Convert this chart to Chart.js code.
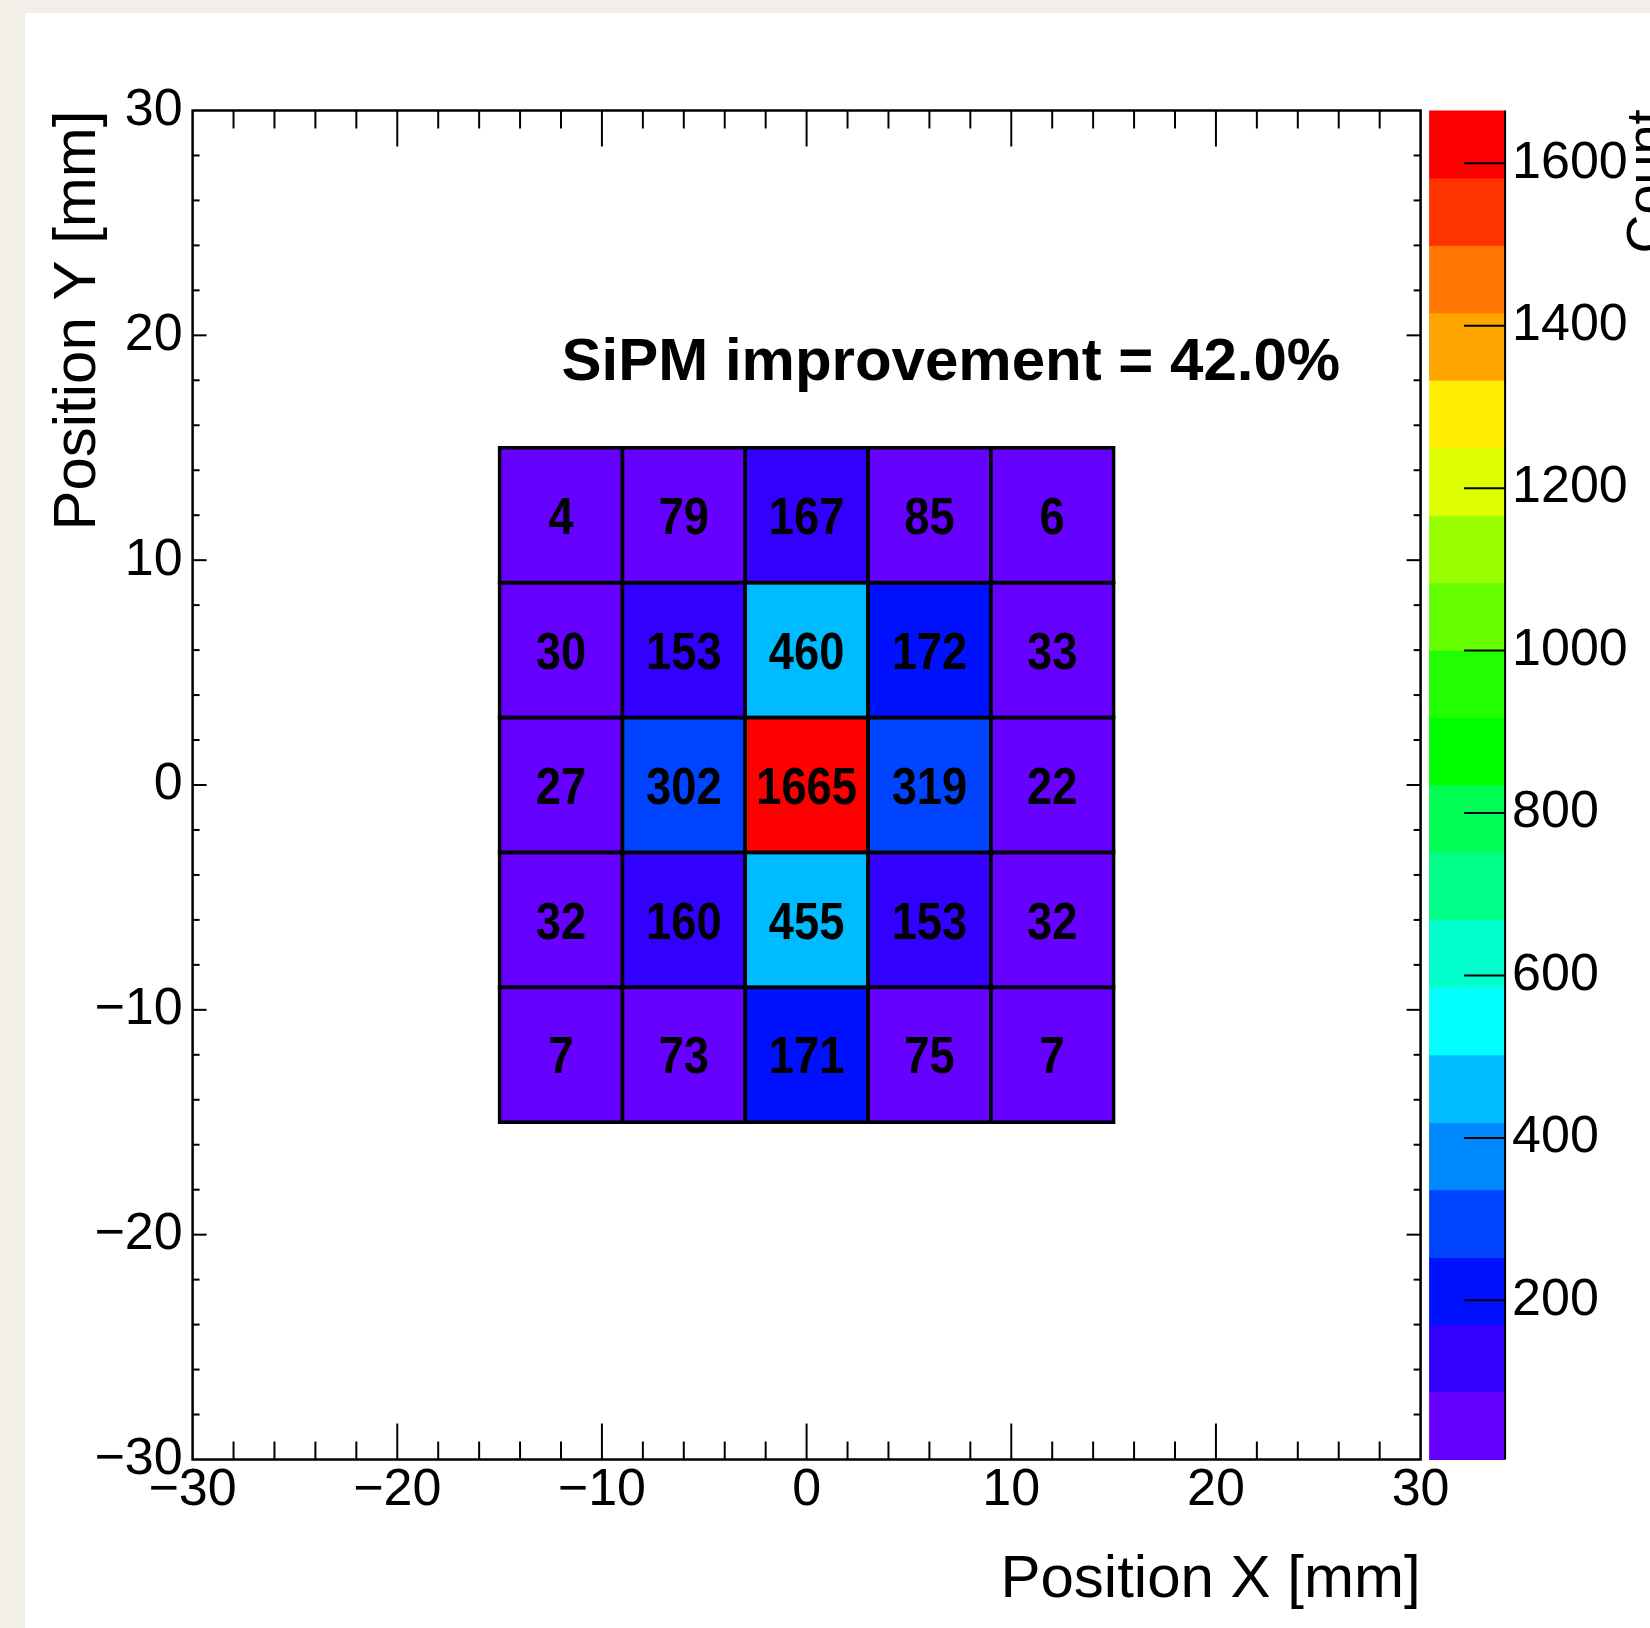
<!DOCTYPE html>
<html>
<head>
<meta charset="utf-8">
<title>SiPM hit map</title>
<script src="https://cdn.jsdelivr.net/npm/chart.js@4.4.1/dist/chart.umd.min.js"></script>
<style>
  html, body { margin: 0; padding: 0; background: #f2efe9; }
  canvas { display: block; }
</style>
</head>
<body>
<canvas id="hitmap" width="1650" height="1628"></canvas>
<script>
// bin edges of the 5x5 SiPM array [mm]
const xEdges = [-15, -9, -3, 3, 9, 15];
const yEdges = [15, 9, 3, -3, -9, -15];
// counts per bin, rows from top (y = +12) to bottom (y = -12)
const counts = [
  [4, 79, 167, 85, 6],
  [30, 153, 460, 172, 33],
  [27, 302, 1665, 319, 22],
  [32, 160, 455, 153, 32],
  [7, 73, 171, 75, 7]
];
const xTicks = [-30, -20, -10, 0, 10, 20, 30];
const yTicks = [-30, -20, -10, 0, 10, 20, 30];
const zTicks = [200, 400, 600, 800, 1000, 1200, 1400, 1600];
const improvement = 42.0;

// 20 contour levels, low to high
const palette = [
  '#6600ff', '#3300ff', '#0011ff', '#0044ff', '#0088ff',
  '#00bbff', '#00ffff', '#00ffcc', '#00ff88', '#00ff55',
  '#00ff00', '#22ff00', '#66ff00', '#99ff00', '#ddff00',
  '#ffee00', '#ffa500', '#ff7700', '#ff3300', '#ff0000'
];

const FONT = "'Liberation Sans', Helvetica, Arial, sans-serif";

const zMin = Math.min(...counts.flat());
const zMax = Math.max(...counts.flat());

const cells = [];
counts.forEach((row, j) => row.forEach((v, i) => {
  cells.push({
    x: (xEdges[i] + xEdges[i + 1]) / 2,
    y: (yEdges[j] + yEdges[j + 1]) / 2,
    x0: xEdges[i], x1: xEdges[i + 1],
    y0: yEdges[j], y1: yEdges[j + 1],
    v: v
  });
}));

function levelColor(v) {
  let k = Math.floor((v - zMin) / (zMax - zMin) * palette.length);
  k = Math.max(0, Math.min(palette.length - 1, k));
  return palette[k];
}

function minus(v) {
  return v < 0 ? '\u2212' + Math.abs(v) : String(v);
}

function seg(ctx, x0, y0, x1, y1) {
  ctx.beginPath();
  ctx.moveTo(x0, y0);
  ctx.lineTo(x1, y1);
  ctx.stroke();
}

const pagePlugin = {
  id: 'page',
  beforeDraw(chart) {
    const ctx = chart.ctx;
    ctx.save();
    ctx.fillStyle = '#ffffff';
    ctx.fillRect(25, 13, chart.width - 25, chart.height - 13);
    ctx.restore();
  }
};

const heatmapPlugin = {
  id: 'heatmap',
  afterDatasetsDraw(chart) {
    const ctx = chart.ctx;
    const xs = chart.scales.x, ys = chart.scales.y;
    const pts = chart.data.datasets[0].data;
    ctx.save();
    pts.forEach(c => {
      const px0 = xs.getPixelForValue(c.x0), px1 = xs.getPixelForValue(c.x1);
      const py0 = ys.getPixelForValue(c.y0), py1 = ys.getPixelForValue(c.y1);
      ctx.fillStyle = levelColor(c.v);
      ctx.fillRect(px0, py0, px1 - px0, py1 - py0);
    });
    ctx.strokeStyle = '#000';
    ctx.lineWidth = 3.5;
    pts.forEach(c => {
      const px0 = xs.getPixelForValue(c.x0), px1 = xs.getPixelForValue(c.x1);
      const py0 = ys.getPixelForValue(c.y0), py1 = ys.getPixelForValue(c.y1);
      ctx.strokeRect(px0, py0, px1 - px0, py1 - py0);
    });
    // bin contents, bold and a bit condensed
    const size = 52;
    ctx.fillStyle = '#000';
    ctx.font = 'bold ' + size + 'px ' + FONT;
    ctx.textAlign = 'center';
    ctx.textBaseline = 'alphabetic';
    pts.forEach(c => {
      ctx.save();
      ctx.translate(xs.getPixelForValue(c.x), ys.getPixelForValue(c.y) + size * 0.358);
      ctx.scale(0.87, 1);
      ctx.fillText(String(c.v), 0, 0);
      ctx.restore();
    });
    ctx.restore();
  }
};

const framePlugin = {
  id: 'frame',
  afterDraw(chart) {
    const ctx = chart.ctx;
    const a = chart.chartArea;
    const xs = chart.scales.x, ys = chart.scales.y, zs = chart.scales.z;
    ctx.save();
    ctx.strokeStyle = '#000';

    // axis ticks on all four sides, major every 10, minor every 2
    ctx.lineWidth = 2;
    for (let v = xs.min + 2; v < xs.max; v += 2) {
      const major = Math.abs(v % 10) < 1e-6;
      const len = major ? 36 : 18;
      const p = xs.getPixelForValue(v);
      seg(ctx, p, a.bottom, p, a.bottom - len);
      seg(ctx, p, a.top, p, a.top + len);
    }
    for (let v = ys.min + 2; v < ys.max; v += 2) {
      const major = Math.abs(v % 10) < 1e-6;
      const len = major ? 14 : 7;
      const p = ys.getPixelForValue(v);
      seg(ctx, a.left, p, a.left + len, p);
      seg(ctx, a.right, p, a.right - len, p);
    }
    ctx.lineWidth = 2.5;
    ctx.strokeRect(a.left, a.top, a.right - a.left, a.bottom - a.top);

    // colour palette box
    const bx0 = a.right + 8.5, bx1 = a.right + 84.5;
    palette.forEach((col, k) => {
      const lo = zMin + (zMax - zMin) * k / palette.length;
      const hi = zMin + (zMax - zMin) * (k + 1) / palette.length;
      const yt = zs.getPixelForValue(hi), yb = zs.getPixelForValue(lo);
      ctx.fillStyle = col;
      ctx.fillRect(bx0, yt, bx1 - bx0, yb - yt + 0.5);
    });
    ctx.lineWidth = 2;
    zs.ticks.forEach(t => {
      const p = zs.getPixelForValue(t.value);
      seg(ctx, bx1 - 41, p, bx1, p);
    });
    seg(ctx, bx1, zs.getPixelForValue(zMax), bx1, zs.getPixelForValue(zMin));

    // z axis title
    ctx.fillStyle = '#000';
    ctx.font = '54px ' + FONT;
    ctx.save();
    ctx.translate(chart.width - 0.5, a.top - 1);
    ctx.rotate(-Math.PI / 2);
    ctx.textAlign = 'right';
    ctx.textBaseline = 'middle';
    ctx.fillText('Count', 0, 0);
    ctx.restore();

    // annotation
    ctx.font = 'bold 60px ' + FONT;
    ctx.textAlign = 'center';
    ctx.textBaseline = 'alphabetic';
    ctx.fillText('SiPM improvement = ' + improvement.toFixed(1) + '%',
      xs.getPixelForValue(7.05), ys.getPixelForValue(18));
    ctx.restore();
  }
};

const tickFont = { family: FONT, size: 52 };
const titleFont = { family: FONT, size: 60 };

new Chart(document.getElementById('hitmap'), {
  type: 'scatter',
  data: {
    datasets: [{
      label: 'Count',
      data: cells,
      pointRadius: 0,
      pointHoverRadius: 0
    }]
  },
  options: {
    responsive: false,
    animation: false,
    devicePixelRatio: 1,
    layout: { padding: { left: 0, top: 110.5, right: 0, bottom: 0 } },
    plugins: { legend: { display: false }, tooltip: { enabled: false } },
    scales: {
      x: {
        type: 'linear', position: 'bottom', min: -30, max: 30,
        grid: { display: false, drawTicks: false },
        border: { display: false },
        afterBuildTicks: s => { s.ticks = xTicks.map(v => ({ value: v })); },
        afterFit: s => { s.height = 168.5; },
        ticks: { autoSkip: false, maxRotation: 0, padding: 0, color: '#000', font: tickFont, callback: v => minus(v) },
        title: { display: true, text: 'Position X [mm]', align: 'end', color: '#000', font: titleFont, padding: { top: 0, bottom: 12 } }
      },
      y: {
        type: 'linear', position: 'left', min: -30, max: 30,
        grid: { display: false, drawTicks: false },
        border: { display: false },
        afterBuildTicks: s => { s.ticks = yTicks.map(v => ({ value: v })); },
        afterFit: s => { s.width = 192.6; },
        ticks: { autoSkip: false, padding: 10, color: '#000', font: tickFont, callback: v => minus(v) },
        title: { display: true, text: 'Position Y [mm]', align: 'end', color: '#000', font: titleFont, padding: { top: 42.5, bottom: 0 } }
      },
      z: {
        type: 'linear', position: 'right', min: zMin, max: zMax,
        // hidden tick marks only push the labels clear of the palette box
        grid: { display: false, drawTicks: true, tickLength: 91.5 },
        border: { display: false },
        afterBuildTicks: s => { s.ticks = zTicks.map(v => ({ value: v })); },
        afterFit: s => { s.width = 229.4; },
        ticks: { autoSkip: false, padding: 0, color: '#000', font: tickFont, callback: v => String(v) }
      }
    }
  },
  plugins: [pagePlugin, heatmapPlugin, framePlugin]
});
</script>
</body>
</html>
